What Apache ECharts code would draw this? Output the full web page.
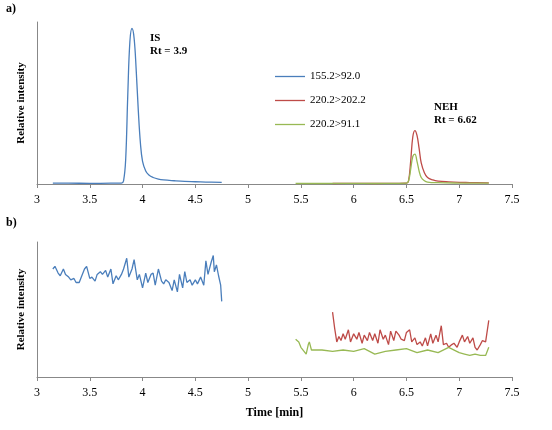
<!DOCTYPE html>
<html><head><meta charset="utf-8">
<script src="https://cdn.jsdelivr.net/npm/echarts@6/dist/echarts.min.js"></script>
<style>html,body{margin:0;padding:0;background:#fff}#c{width:552px;height:430px}</style>
</head><body><div id="c"></div>
<script>
// Panel a) chromatogram
const tA_blue = [3.15,3.3,3.5,3.7,3.8,3.82,3.84,3.86,3.88,3.9,3.92,3.94,3.96,3.98,4.0,4.03,4.06,4.1,4.15,4.2,4.3,4.4,4.5,4.6,4.75];
const vA_blue = [0.5,0.5,0.4,0.5,0.6,2,15,55,88,96,90,70,45,25,14,8,5.5,4,3,2.5,2,1.6,1.4,1.2,1];
const tA_red = [5.8,6.0,6.2,6.4,6.5,6.52,6.54,6.56,6.58,6.6,6.62,6.64,6.67,6.7,6.75,6.8,6.9,7.0,7.1,7.28];
const vA_red = [0.3,0.4,0.3,0.4,0.5,2,14,29,33,30,22,13,7,4,2.5,1.8,1.3,1,0.9,0.7];
const tA_green = [5.45,5.7,6.0,6.2,6.4,6.5,6.52,6.54,6.56,6.58,6.6,6.62,6.64,6.67,6.7,6.8,7.0,7.28];
const vA_green = [0.3,0.3,0.4,0.3,0.4,0.5,2,9,17,18.5,14,8,4,2,1.2,0.8,0.6,0.5];
// Panel b) baseline noise
const tB_blue = [3.15,3.17,3.2,3.22,3.25,3.27,3.3,3.32,3.35,3.37,3.4,3.42,3.45,3.47,3.5,3.52,3.55,3.57,3.6,3.62,3.65,3.67,3.7,3.72,3.75,3.77,3.8,3.82,3.85,3.87,3.9,3.92,3.95,3.97,4.0,4.03,4.05,4.08,4.1,4.12,4.15,4.18,4.2,4.22,4.25,4.28,4.3,4.33,4.35,4.38,4.4,4.42,4.45,4.47,4.5,4.52,4.55,4.58,4.6,4.62,4.65,4.67,4.68,4.7,4.72,4.74,4.75];
const vB_blue = [80,82,77,75,80,76,74,72,73,70,70,74,80,82,73,74,71,76,78,76,79,74,80,69,75,72,76,80,88,74,80,87,72,76,66,77,70,76,77,68,80,71,69,72,70,64,72,63,76,66,78,70,72,68,72,69,74,68,86,76,85,90,78,83,75,68,56];
const tB_red = [5.8,5.82,5.84,5.86,5.88,5.9,5.92,5.95,5.97,6.0,6.03,6.05,6.08,6.1,6.13,6.15,6.18,6.2,6.23,6.25,6.28,6.3,6.33,6.35,6.38,6.4,6.43,6.45,6.48,6.5,6.53,6.55,6.58,6.6,6.63,6.65,6.68,6.7,6.73,6.75,6.78,6.8,6.83,6.85,6.88,6.9,6.93,6.95,6.98,7.0,7.03,7.05,7.08,7.1,7.13,7.15,7.17,7.2,7.22,7.25,7.28];
const vB_red = [48,36,26,30,27,32,28,35,26,32,28,33,25,31,27,33,27,32,25,35,28,31,24,34,27,34,31,28,27,33,35,26,29,24,26,23,29,23,32,25,31,26,38,24,25,22,24,25,22,26,31,26,30,25,29,22,20,24,27,26,42];
const tB_green = [5.45,5.48,5.5,5.53,5.55,5.57,5.58,5.6,5.65,5.7,5.8,5.9,6.0,6.1,6.2,6.3,6.4,6.5,6.6,6.7,6.8,6.9,7.0,7.05,7.1,7.15,7.2,7.25,7.28];
const vB_green = [28,26,22,19,17,24,26,20,20,20,19,20,19,21,17,19,20,21,18,20,18,22,18,17,16,17,16,16,22];
const xTicks = [3,7.5,0.5];
const legendNames = ['155.2>92.0','220.2>202.2','220.2>91.1'];
const colors = ['#4a7ebb','#be4b48','#98b954'];

const zip = (t,v)=>t.map((x,i)=>[x,v[i]]);
const font = 'Liberation Serif';
const ax = (gi,showName)=>({
  type:'value',gridIndex:gi,min:xTicks[0],max:xTicks[1],interval:xTicks[2],
  axisLine:{lineStyle:{color:'#888'}},axisTick:{show:true,length:4,lineStyle:{color:'#888'}},
  axisLabel:{color:'#000',fontFamily:font,fontSize:12,margin:10},splitLine:{show:false},
  name:showName?'Time [min]':'',nameLocation:'middle',nameGap:30,
  nameTextStyle:{fontFamily:font,fontWeight:'bold',fontSize:12,color:'#000'}
});
const ay = (gi,max)=>({
  type:'value',gridIndex:gi,min:0,max:max,axisLine:{show:true,lineStyle:{color:'#888'}},
  axisTick:{show:false},axisLabel:{show:false},splitLine:{show:false},
  name:'Relative intensity',nameLocation:'middle',nameGap:10,
  nameTextStyle:{fontFamily:font,fontWeight:'bold',fontSize:11,color:'#000'}
});
const ln = (name,d,xi,ci)=>({type:'line',name,data:d,xAxisIndex:xi,yAxisIndex:xi,
  showSymbol:false,smooth:xi===0?0.4:false,lineStyle:{width:1.3,color:colors[ci]},itemStyle:{color:colors[ci]},animation:false});

const chart = echarts.init(document.getElementById('c'));
chart.setOption({
  animation:false,
  grid:[{left:37,right:40,top:22,height:162},{left:37,right:40,top:242,height:135}],
  xAxis:[ax(0,false),ax(1,true)],
  yAxis:[ay(0,100),ay(1,100)],
  legend:{data:legendNames,orient:'vertical',left:270,top:66,itemWidth:30,itemHeight:8,itemGap:13,
    icon:'path://M0,0 L30,0 L30,1.3 L0,1.3 Z',
    textStyle:{fontFamily:font,fontSize:11,color:'#000'}},
  series:[
    ln(legendNames[0],zip(tA_blue,vA_blue),0,0),
    ln(legendNames[1],zip(tA_red,vA_red),0,1),
    ln(legendNames[2],zip(tA_green,vA_green),0,2),
    ln(legendNames[0],zip(tB_blue,vB_blue),1,0),
    ln(legendNames[1],zip(tB_red,vB_red),1,1),
    ln(legendNames[2],zip(tB_green,vB_green),1,2)
  ],
  graphic:[
    {type:'text',left:6,top:3,style:{text:'a)',font:'bold 12px "Liberation Serif"',fill:'#000'}},
    {type:'text',left:6,top:217,style:{text:'b)',font:'bold 12px "Liberation Serif"',fill:'#000'}},
    {type:'text',left:150,top:32,style:{text:'IS\nRt = 3.9',lineHeight:13,font:'bold 11px "Liberation Serif"',fill:'#000'}},
    {type:'text',left:434,top:101,style:{text:'NEH\nRt = 6.62',lineHeight:13,font:'bold 11px "Liberation Serif"',fill:'#000'}}
  ]
});
</script></body></html>
